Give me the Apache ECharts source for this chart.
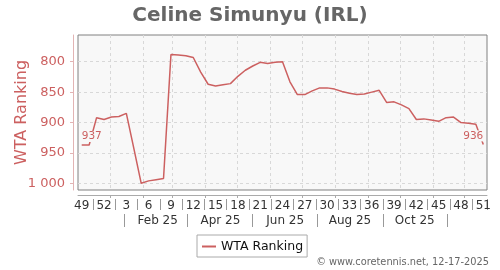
<!DOCTYPE html>
<html><head><meta charset="utf-8">
<script src="https://cdn.jsdelivr.net/npm/echarts@6/dist/echarts.min.js"></script>
<style>html,body{margin:0;padding:0;background:#fff}#c{width:500px;height:270px}</style>
</head><body><div id="c"></div>
<script>
const chartTitle = 'Celine Simunyu (IRL)';
const seriesName = 'WTA Ranking';
const weeks = [49,50,51,52,1,2,3,4,5,6,7,8,9,10,11,12,13,14,15,16,17,18,19,20,21,22,23,24,25,26,27,28,29,30,31,32,33,34,35,36,37,38,39,40,41,42,43,44,45,46,47,48,49,50,51];
const ranking = [937,937,892,895,891,890,885,942,1000,996,994,992,788,789,790,793,817,837,840,838,836,824,814,807,801,803,801,800,833,854,854,848,843,843,845,849,852,854,853,850,847,867,866,871,877,895,894,896,898,892,891,900,901,903,936];
const yTicks = [800,850,900,950,1000];
const monthLabels = ['Feb 25','Apr 25','Jun 25','Aug 25','Oct 25'];
const monthLabelMonths = [1,3,5,7,9];
const monthSepMonths = [0,2,4,6,8,10];
const rangeStart = Date.UTC(2024,11,2);
const rangeEnd = Date.UTC(2025,11,22);
const copyright = '\u00a9 www.coretennis.net, 12-17-2025';

const FONT = 'DejaVu Sans';
const RED = '#cc6060';
const monthStarts = [];
for (let m = 0; m < 12; m++) monthStarts.push(Date.UTC(2025, m, 1));
const labelTs = monthLabelMonths.map(m => Date.UTC(2025, m, 15));
const sepTs = monthSepMonths.map(m => Date.UTC(2025, m, 15));
const fmtThousands = v => String(v).replace(/\B(?=(\d{3})+(?!\d))/g, ' ');

const lastIdx = ranking.length - 1;
const seriesData = ranking.map((v, i) => {
  if (i === 0 || i === lastIdx) {
    return {value: v, label: {show: true, position: 'top', distance: 3,
      align: i === 0 ? 'left' : 'right', color: RED, fontSize: 10.5, fontFamily: FONT,
      backgroundColor: '#f8f8f8', padding: [0, 0, 0, 0]}};
  }
  return v;
});

const chart = echarts.init(document.getElementById('c'), null, {renderer: 'canvas'});
chart.setOption({
  animation: false,
  title: {text: chartTitle, left: 'center', top: 1,
    textStyle: {fontFamily: FONT, fontSize: 20, fontWeight: 'bold', color: '#666'}},
  legend: {data: [{name: seriesName, icon: 'rect'}], left: 197, top: 235, padding: [5, 4, 4, 5],
    borderColor: '#aaa', borderWidth: 1, itemWidth: 14, itemHeight: 2, itemGap: 5,
    textStyle: {fontFamily: FONT, fontSize: 12.5, color: '#111'}},
  graphic: [{type: 'text', right: 11, top: 257,
    style: {text: copyright, fontFamily: FONT, fontSize: 9.8, fill: '#666'}}],
  grid: {left: 78, right: 13, top: 35, bottom: 80, show: true, containLabel: false,
    outerBoundsMode: 'none',
    backgroundColor: '#f8f8f8', borderColor: '#808080', borderWidth: 1},
  xAxis: [
    {type: 'category', data: weeks.map(String), position: 'bottom', offset: 9,
      boundaryGap: true,
      axisLine: {show: false, onZero: false},
      axisTick: {show: true, length: 11, lineStyle: {color: '#999'},
        interval: (i) => i % 3 === 2},
      axisLabel: {interval: 2, margin: 1, fontFamily: FONT, fontSize: 12, color: '#333'},
      splitLine: {show: false}},
    {type: 'value', min: rangeStart, max: rangeEnd, position: 'bottom', offset: 5,
      axisLine: {show: true, onZero: false, lineStyle: {color: '#aaa'}},
      axisTick: {show: true, length: 3, customValues: monthStarts, lineStyle: {color: '#aaa'}},
      axisLabel: {show: true, customValues: monthStarts, formatter: () => ''},
      splitLine: {show: true, lineStyle: {color: '#d8d8d8', type: [3, 3]}}},
    {type: 'value', min: rangeStart, max: rangeEnd, position: 'bottom', offset: 24,
      axisLine: {show: false, onZero: false},
      axisTick: {show: true, length: 13, customValues: sepTs, lineStyle: {color: '#999'}},
      axisLabel: {show: true, customValues: labelTs, margin: 1, fontFamily: FONT, fontSize: 12, color: '#333',
        formatter: (v) => { const k = labelTs.indexOf(v); return k >= 0 ? monthLabels[k] : ''; }},
      splitLine: {show: false}}
  ],
  yAxis: {type: 'value', inverse: true, min: 756, max: 1011, offset: 5,
    axisLine: {show: true, lineStyle: {color: '#e2b4b4'}},
    axisTick: {show: true, length: 3, customValues: yTicks, lineStyle: {color: '#e2b4b4'}},
    axisLabel: {customValues: yTicks, margin: 8, fontFamily: FONT, fontSize: 13, color: RED,
      formatter: fmtThousands},
    splitLine: {show: true, lineStyle: {color: '#d8d8d8', type: [3, 3]}},
    name: seriesName, nameLocation: 'middle', nameGap: 43, nameRotate: 90, nameMoveOverlap: false,
    nameTextStyle: {fontFamily: FONT, fontSize: 16, color: RED}},
  series: [{name: seriesName, type: 'line', xAxisIndex: 0, yAxisIndex: 0,
    data: seriesData, symbol: 'circle', symbolSize: 0, showSymbol: true, showAllSymbol: true,
    lineStyle: {color: RED, width: 1.5}, itemStyle: {color: RED}}]
});
</script></body></html>
